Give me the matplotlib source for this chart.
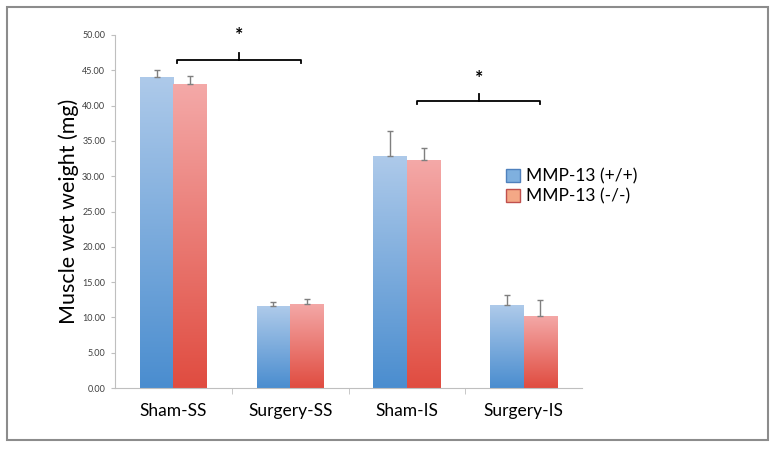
import numpy as np
import matplotlib
matplotlib.use('Agg')
from matplotlib import pyplot as plt
from matplotlib.colors import LinearSegmentedColormap
from matplotlib.patches import Rectangle, Patch

### Data
groups = ['Sham-SS', 'Surgery-SS', 'Sham-IS', 'Surgery-IS']
series = ['MMP-13 (+/+)', 'MMP-13 (-/-)']
wt_mean = [44.1, 11.6, 32.9, 11.7]
wt_err = [1.0, 0.6, 3.5, 1.5]
ko_mean = [43.0, 11.9, 32.3, 10.2]
ko_err = [1.2, 0.7, 1.7, 2.3]
yticks = np.arange(0, 50.01, 5)

plt.rcParams['font.family'] = ['Lato', 'DejaVu Sans']

W, H = 777, 449
fig = plt.figure(figsize=(W/100, H/100), dpi=100)
fig.patches.append(Rectangle((7/W, 9/H), 761/W, 433/H, transform=fig.transFigure,
                             fill=False, edgecolor='#8c8c8c', linewidth=1.5))
ax = fig.add_axes([115/W, 61/H, 467/W, 353/H])

blue_cm = LinearSegmentedColormap.from_list('b', ['#4a8dcf', '#aecaea'])
red_cm = LinearSegmentedColormap.from_list('r', ['#e04c40', '#f4a9a8'])
grad = np.linspace(0, 1, 256).reshape(-1, 1)

x = np.arange(len(groups))
bw = 0.287

def grad_bars(xpos, vals, errs, cmap):
    bars = ax.bar(xpos, vals, bw, color='none', edgecolor='none')
    for b in bars:
        x0, w, h = b.get_x(), b.get_width(), b.get_height()
        im = ax.imshow(grad, cmap=cmap, origin='lower', aspect='auto',
                       extent=[x0, x0 + w, 0, h], zorder=2)
        im.set_clip_path(b)
    ax.errorbar(xpos, vals, yerr=[np.zeros(len(errs)), errs], fmt='none',
                ecolor='#7f7f7f', elinewidth=1.0, capsize=2.5, capthick=1.0, zorder=3)
    return bars

grad_bars(x - bw/2, wt_mean, wt_err, blue_cm)
grad_bars(x + bw/2, ko_mean, ko_err, red_cm)

ax.set_xlim(-0.5, 3.5)
ax.set_ylim(0, 50)
ax.set_yticks(yticks)
ax.set_yticklabels(['%.2f' % v for v in yticks], fontsize=6.5, color='#404040')
ax.set_xticks(x)
ax.set_xticklabels(groups, fontsize=12.5)
ax.set_xticks([0.5, 1.5, 2.5], minor=True)
ax.tick_params(axis='x', which='major', length=0, pad=11)
ax.tick_params(axis='x', which='minor', length=4, color='#bfbfbf')
ax.tick_params(axis='y', length=3, color='#bfbfbf', pad=4)
for s in ['top', 'right']:
    ax.spines[s].set_visible(False)
ax.spines['left'].set_color('#bfbfbf')
ax.spines['bottom'].set_color('#bfbfbf')
ax.set_ylabel('Muscle wet weight (mg)', fontsize=15.5, labelpad=2)

# significance brackets
def bracket(x1, x2, y, ystar):
    xm = (x1 + x2) / 2
    ax.plot([x1, x1, x2, x2], [y - 0.5, y, y, y - 0.5], color='black', lw=1.3, clip_on=False)
    ax.plot([xm, xm], [y, y + 0.9], color='black', lw=1.3, clip_on=False)
    ax.text(xm, ystar, '*', ha='center', va='center', fontsize=14, fontweight='bold')

bracket(0.03, 1.09, 46.5, 49.9)
bracket(2.09, 3.14, 40.7, 43.9)

# legend
handles = [Patch(facecolor='#7fb0df', edgecolor='#4f81bd', label=series[0]),
           Patch(facecolor='#f4a886', edgecolor='#c0504d', label=series[1])]
fig.legend(handles=handles, loc='upper left', bbox_to_anchor=(490/W, 1 - 153/H),
           frameon=False, fontsize=12.5, handlelength=0.8, handleheight=0.8,
           handletextpad=0.35, labelspacing=0.2)

fig.savefig('out.png', dpi=100)
